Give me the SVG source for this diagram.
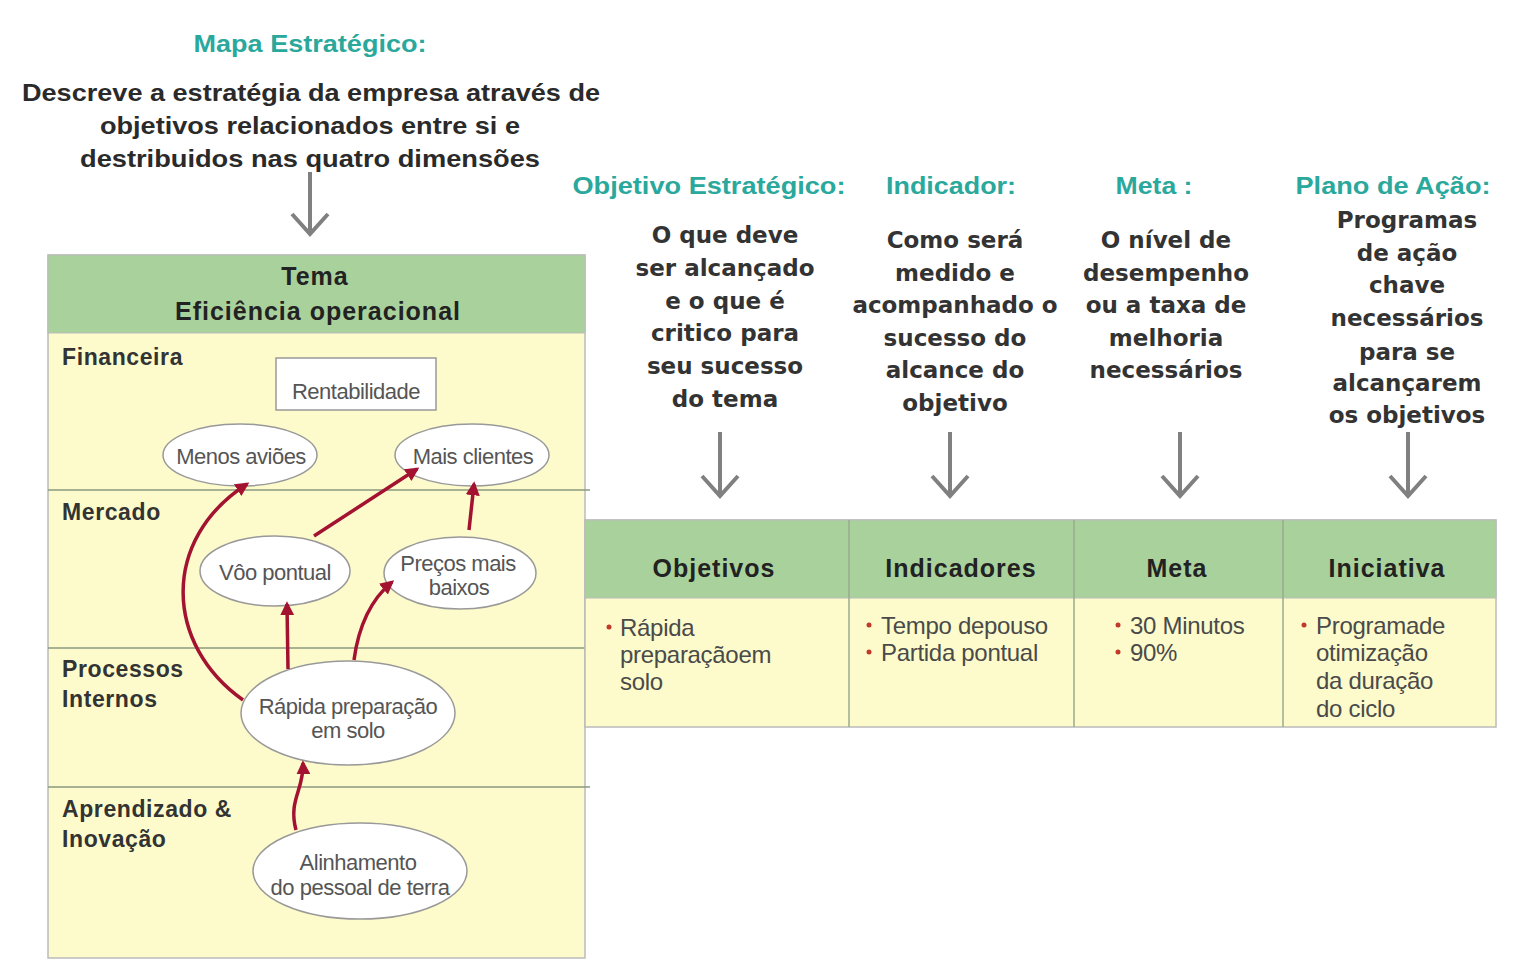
<svg xmlns="http://www.w3.org/2000/svg" width="1524" height="975" viewBox="0 0 1524 975">
<defs>
<style>
.teal{font-family:"Liberation Sans",Arial,sans-serif;font-weight:bold;font-size:24px;fill:#2aa89c;text-anchor:middle}
.desc{font-family:"DejaVu Sans",Verdana,sans-serif;font-weight:bold;font-size:23px;fill:#333;text-anchor:middle}
.top{font-family:"Liberation Sans",Arial,sans-serif;font-weight:bold;font-size:24px;fill:#2a2a2a;text-anchor:middle}
.hdr{font-family:"Liberation Sans",Arial,sans-serif;font-weight:bold;font-size:25px;fill:#222;text-anchor:middle;letter-spacing:1px}
.lane{font-family:"Liberation Sans",Arial,sans-serif;font-weight:bold;font-size:23px;fill:#333;letter-spacing:0.6px}
.nd{font-family:"Liberation Sans",Arial,sans-serif;font-size:22px;fill:#555;text-anchor:middle;letter-spacing:-0.5px}
.cell{font-family:"Liberation Sans",Arial,sans-serif;font-size:24px;fill:#4a4a4a;letter-spacing:-0.3px}
.ell{fill:#fff;stroke:#999;stroke-width:1.5}
.gar{stroke:#808080;stroke-width:4;fill:none}
.rar{stroke:#a31230;stroke-width:3.5;fill:none;marker-end:url(#rh)}
.div{stroke:#8a9a80;stroke-width:1.5}
.dot{fill:#c0392b}
</style>
<marker id="rh" viewBox="0 0 10 10" refX="8" refY="5" markerWidth="4" markerHeight="4" orient="auto" markerUnits="strokeWidth">
<path d="M0,0 L10,5 L0,10 z" fill="#a31230"/>
</marker>
</defs>
<rect width="1524" height="975" fill="#fff"/>

<g id="intro">
<text class="teal" x="310" y="52" textLength="233" lengthAdjust="spacingAndGlyphs">Mapa Estratégico:</text>
<text class="top" x="311" y="101" textLength="578" lengthAdjust="spacingAndGlyphs">Descreve a estratégia da empresa através de</text>
<text class="top" x="310" y="134" textLength="420" lengthAdjust="spacingAndGlyphs">objetivos relacionados entre si e</text>
<text class="top" x="310" y="167" textLength="460" lengthAdjust="spacingAndGlyphs">destribuidos nas quatro dimensões</text>
<path class="gar" d="M310,172 V234 M292,214 L310,234 L328,214"/>
</g>

<g id="map-panel">
<rect x="48" y="255" width="537" height="703" fill="#fdfbcb" stroke="#bbb" stroke-width="1.5"/>
<rect x="48" y="255" width="537" height="78" fill="#a9d19c" stroke="#bbb" stroke-width="1"/>
<text class="hdr" x="315" y="285">Tema</text>
<text class="hdr" x="318" y="320">Eficiência operacional</text>
<line class="div" x1="48" y1="490" x2="590" y2="490"/>
<line class="div" x1="48" y1="648" x2="590" y2="648"/>
<line class="div" x1="48" y1="787" x2="590" y2="787"/>
<text class="lane" x="62" y="365">Financeira</text>
<text class="lane" x="62" y="520">Mercado</text>
<text class="lane" x="62" y="677">Processos</text>
<text class="lane" x="62" y="707">Internos</text>
<text class="lane" x="62" y="817">Aprendizado &amp;</text>
<text class="lane" x="62" y="847">Inovação</text>
</g>

<g id="rentabilidade">
<rect x="276" y="358" width="160" height="52" fill="#fff" stroke="#999" stroke-width="1.5"/>
<text class="nd" x="356" y="399">Rentabilidade</text>
</g>
<g id="menos-avioes">
<ellipse class="ell" cx="240" cy="455" rx="77" ry="31"/>
<text class="nd" x="241" y="464">Menos aviões</text>
</g>
<g id="mais-clientes">
<ellipse class="ell" cx="472" cy="455" rx="77" ry="31"/>
<text class="nd" x="473" y="464">Mais clientes</text>
</g>
<g id="voo-pontual">
<ellipse class="ell" cx="275" cy="571" rx="75" ry="35"/>
<text class="nd" x="275" y="580">Vôo pontual</text>
</g>
<g id="precos">
<ellipse class="ell" cx="460" cy="573" rx="76" ry="36"/>
<text class="nd" x="458" y="571">Preços mais</text>
<text class="nd" x="459" y="595">baixos</text>
</g>
<g id="rapida">
<ellipse class="ell" cx="348" cy="713" rx="107" ry="52"/>
<text class="nd" x="348" y="714">Rápida preparação</text>
<text class="nd" x="348" y="738">em solo</text>
</g>
<g id="alinhamento">
<ellipse class="ell" cx="360" cy="871" rx="107" ry="48"/>
<text class="nd" x="358" y="870">Alinhamento</text>
<text class="nd" x="360" y="895">do pessoal de terra</text>
</g>

<g id="connectors">
<path class="rar" d="M243,700 C165,645 160,540 247,484"/>
<path class="rar" d="M288,669 L287,604"/>
<path class="rar" d="M354,660 C358,630 368,602 392,582"/>
<path class="rar" d="M314,536 L417,469"/>
<path class="rar" d="M469,530 L474,484"/>
<path class="rar" d="M296,830 C288,800 304,790 303,763"/>
</g>

<g id="col-objetivo">
<text class="teal" x="709" y="194" textLength="273" lengthAdjust="spacingAndGlyphs">Objetivo Estratégico:</text>
<text class="desc" x="725" y="243">O que deve</text>
<text class="desc" x="725" y="276">ser alcançado</text>
<text class="desc" x="725" y="309">e o que é</text>
<text class="desc" x="725" y="341">critico para</text>
<text class="desc" x="725" y="374">seu sucesso</text>
<text class="desc" x="725" y="407">do tema</text>
<path class="gar" d="M720,432 V496 M702,476 L720,496 L738,476"/>
</g>
<g id="col-indicador">
<text class="teal" x="951" y="194" textLength="130" lengthAdjust="spacingAndGlyphs">Indicador:</text>
<text class="desc" x="955" y="248">Como será</text>
<text class="desc" x="955" y="281">medido e</text>
<text class="desc" x="955" y="313">acompanhado o</text>
<text class="desc" x="955" y="346">sucesso do</text>
<text class="desc" x="955" y="378">alcance do</text>
<text class="desc" x="955" y="411">objetivo</text>
<path class="gar" d="M950,432 V496 M932,476 L950,496 L968,476"/>
</g>
<g id="col-meta">
<text class="teal" x="1154" y="194" textLength="77" lengthAdjust="spacingAndGlyphs">Meta :</text>
<text class="desc" x="1166" y="248">O nível de</text>
<text class="desc" x="1166" y="281">desempenho</text>
<text class="desc" x="1166" y="313">ou a taxa de</text>
<text class="desc" x="1166" y="346">melhoria</text>
<text class="desc" x="1166" y="378">necessários</text>
<path class="gar" d="M1180,432 V496 M1162,476 L1180,496 L1198,476"/>
</g>
<g id="col-plano">
<text class="teal" x="1393" y="194" textLength="195" lengthAdjust="spacingAndGlyphs">Plano de Ação:</text>
<text class="desc" x="1407" y="228">Programas</text>
<text class="desc" x="1407" y="261">de ação</text>
<text class="desc" x="1407" y="293">chave</text>
<text class="desc" x="1407" y="326">necessários</text>
<text class="desc" x="1407" y="360">para se</text>
<text class="desc" x="1407" y="391">alcançarem</text>
<text class="desc" x="1407" y="423">os objetivos</text>
<path class="gar" d="M1408,432 V496 M1390,476 L1408,496 L1426,476"/>
</g>

<g id="table">
<rect x="585" y="520" width="911" height="207" fill="#fdfbcb" stroke="#bbb" stroke-width="1.5"/>
<rect x="585" y="520" width="911" height="78" fill="#a9d19c" stroke="#bbb" stroke-width="1"/>
<line x1="849" y1="520" x2="849" y2="727" stroke="#9aaa90" stroke-width="1.5"/>
<line x1="1074" y1="520" x2="1074" y2="727" stroke="#9aaa90" stroke-width="1.5"/>
<line x1="1283" y1="520" x2="1283" y2="727" stroke="#9aaa90" stroke-width="1.5"/>
<text class="hdr" x="714" y="577">Objetivos</text>
<text class="hdr" x="961" y="577">Indicadores</text>
<text class="hdr" x="1177" y="577">Meta</text>
<text class="hdr" x="1387" y="577">Iniciativa</text>
<circle class="dot" cx="609" cy="627" r="2.5"/>
<text class="cell" x="620" y="636">Rápida</text>
<text class="cell" x="620" y="663">preparaçãoem</text>
<text class="cell" x="620" y="690">solo</text>
<circle class="dot" cx="869" cy="625" r="2.5"/>
<text class="cell" x="881" y="634">Tempo depouso</text>
<circle class="dot" cx="869" cy="652" r="2.5"/>
<text class="cell" x="881" y="661">Partida pontual</text>
<circle class="dot" cx="1118" cy="625" r="2.5"/>
<text class="cell" x="1130" y="634">30 Minutos</text>
<circle class="dot" cx="1118" cy="652" r="2.5"/>
<text class="cell" x="1130" y="661">90%</text>
<circle class="dot" cx="1304" cy="625" r="2.5"/>
<text class="cell" x="1316" y="634">Programade</text>
<text class="cell" x="1316" y="661">otimização</text>
<text class="cell" x="1316" y="689">da duração</text>
<text class="cell" x="1316" y="717">do ciclo</text>
</g>
</svg>
